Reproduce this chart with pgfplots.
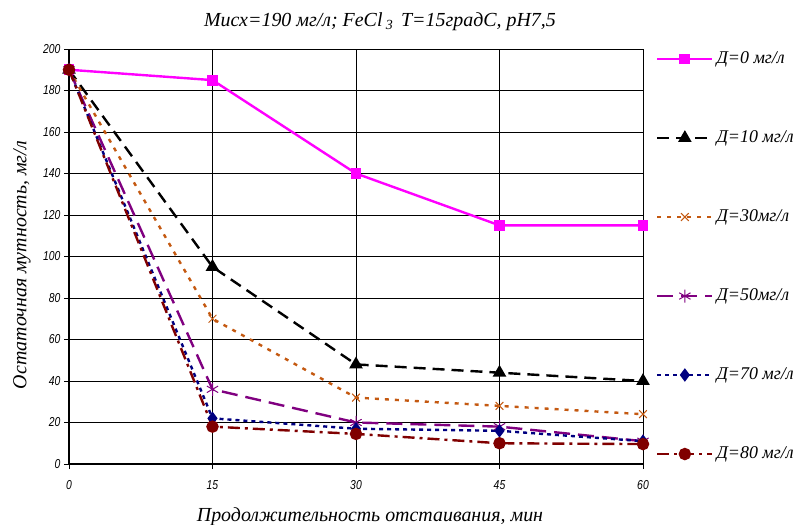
\documentclass[border=0pt]{standalone}
\usepackage{fontspec}
\setmainfont{Liberation Serif}
\newfontfamily\tickfont{Liberation Sans}[FakeStretch=0.8]
\usepackage{pgfplots}
\pgfplotsset{compat=1.18}
\definecolor{c0}{RGB}{255,0,255}
\definecolor{c30}{RGB}{196,89,17}
\definecolor{c50}{RGB}{128,0,128}
\definecolor{c70}{RGB}{0,0,128}
\definecolor{c80}{RGB}{128,0,0}
\begin{document}
\begin{tikzpicture}
\useasboundingbox (-69bp,-61bp) rectangle (732bp,464bp);
\begin{axis}[
  scale only axis, width=574bp, height=415bp,
  at={(0,0)}, anchor=south west,
  xmin=0, xmax=60, ymin=0, ymax=200,
  xtick={0,15,30,45,60}, ytick={0,20,...,200},
  grid=major, major grid style={black, line width=0.6bp},
  axis lines=left, axis line style={-, line width=1.3bp, black},
  tick align=outside, major tick length=5bp, tick style={black, line width=0.6bp},
  /pgf/number format/assume math mode=true,
  ticklabel style={font=\fontsize{13}{14}\selectfont\tickfont\itshape},
  xticklabel style={yshift=-8bp},
  legend cell align=left,
  legend style={draw=none, fill=none, inner sep=0pt, at={(1.0226,0.998)}, anchor=north west,
    row sep=61bp, column sep=2bp,
    nodes={inner sep=1bp, text height=12bp, text depth=4bp, font=\fontsize{18}{20}\selectfont\itshape}},
  legend image code/.code={\draw[mark repeat=2, mark phase=2] plot coordinates {(0bp,0bp) (27.5bp,0bp) (55bp,0bp)};},
]
\addplot[c0, line width=2.4bp, mark=square*, mark size=4.2bp, mark options={solid, fill=c0}]
  coordinates {(0,190) (15,185) (30,140) (45,115) (60,115)};
\addlegendentry{Д=0 мг/л}
\addplot[black, line width=2.4bp, dash pattern=on 12bp off 7bp, mark=triangle*, mark size=5.5bp, mark options={solid, fill=black}]
  coordinates {(0,190) (15,95) (30,48) (45,44) (60,40)};
\addlegendentry{Д=10 мг/л}
\addplot[c30, line width=2.4bp, dash pattern=on 4bp off 6bp, mark=x, mark size=5.5bp, mark options={solid, line width=1bp}]
  coordinates {(0,190) (15,70) (30,32) (45,28) (60,24)};
\addlegendentry{Д=30мг/л}
\addplot[c50, line width=2.4bp, dash pattern=on 16bp off 8bp, mark=asterisk, mark size=6.5bp, mark options={solid, line width=1bp}]
  coordinates {(0,190) (15,36) (30,20) (45,18) (60,11)};
\addlegendentry{Д=50мг/л}
\addplot[c70, line width=2.4bp, dash pattern=on 4bp off 4bp, mark=diamond*, mark size=4.8bp, mark options={solid, fill=c70}]
  coordinates {(0,190) (15,22) (30,17) (45,16) (60,11)};
\addlegendentry{Д=70 мг/л}
\addplot[c80, line width=2.4bp, dash pattern=on 12bp off 5bp on 3bp off 5bp, mark=*, mark size=5bp, mark options={solid, fill=c80}]
  coordinates {(0,190) (15,18) (30,14.5) (45,10) (60,9.6)};
\addlegendentry{Д=80 мг/л}
\end{axis}
\node[font=\fontsize{20}{22}\selectfont\itshape] at (311bp,442bp) {Мисх=190 мг/л; FeCl\,\raisebox{-0.35ex}{\fontsize{14}{15}\selectfont 3}\, T=15градС, pH7,5};
\node[font=\fontsize{20}{22}\selectfont\itshape] at (301bp,-53bp) {Продолжительность отстаивания, мин};
\node[font=\fontsize{20}{22}\selectfont\itshape, rotate=90] at (-47bp,199bp) {Остаточная мутность, мг/л};
\end{tikzpicture}
\end{document}
